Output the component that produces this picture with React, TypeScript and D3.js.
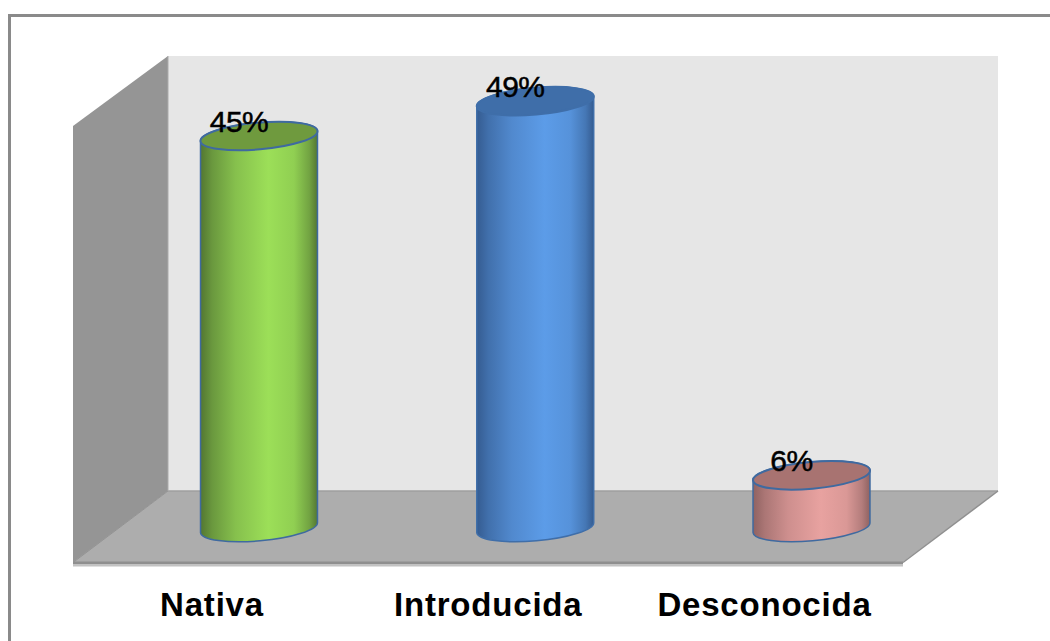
import React from "react";
import * as d3 from "d3";

const categories = ["Nativa", "Introducida", "Desconocida"];
const shares = [45, 49, 6];
const bodyColors = ["#9cdf58", "#5c9ce8", "#e8a2a0"];
const bodyEdgeColors = ["#4f7230", "#33598c", "#8a5f5e"];
const topColors = ["#6f9a3e", "#3f6ea9", "#a87371"];
const strokeColors = ["#3f6aa0", "#3f6ea9", "#3f6aa0"];

const y = d3.scaleLinear().domain([0, 50]).range([527.5, 92.5]);
const x = d3.scalePoint<string>().domain(categories).range([259, 811.5]);

const RX = 58.7;
const RY = 13.4;
const TILT = -5;
const rad = (TILT * Math.PI) / 180;
const dx = RX * Math.cos(rad);
const dy = RX * Math.sin(rad);

const cylinderBody = (cx: number, yTop: number, yBase: number) =>
  `M${cx - dx},${yTop - dy}` +
  `L${cx - dx},${yBase - dy}` +
  `A${RX},${RY} ${TILT} 0 0 ${cx + dx},${yBase + dy}` +
  `L${cx + dx},${yTop + dy}` +
  `A${RX},${RY} ${TILT} 0 0 ${cx - dx},${yTop - dy}Z`;

const stops = [0, 0.1, 0.3, 0.58, 0.8, 0.93, 1];
const mixes = [0.95, 0.65, 0.28, 0, 0.15, 0.55, 0.95];

export default function App() {
  const fontFamily = '"Liberation Sans", Arial, sans-serif';
  return (
    <svg
      width={1050}
      height={641}
      style={{ position: "fixed", left: 0, top: 0, background: "#fff" }}
    >
      <defs>
        {categories.map((c, i) => (
          <linearGradient key={c} id={`side-${i}`} x1="0" x2="1" y1="0" y2="0">
            {stops.map((s, j) => (
              <stop
                key={s}
                offset={s}
                stopColor={d3.interpolateRgb(bodyColors[i], bodyEdgeColors[i])(mixes[j])}
              />
            ))}
          </linearGradient>
        ))}
      </defs>

      {/* outer frame, open past the right and lower page edges */}
      <rect x={9.5} y={15.5} width={1100} height={700} fill="#fff" stroke="#8a8a8a" strokeWidth={3} />

      {/* back wall, side wall and floor */}
      <rect x={168} y={56} width={830} height={435} fill="#e6e6e6" />
      <polygon points="73,126 168,56 168,491 73,563" fill="#959595" />
      <polygon points="73,562 168,491 998,491 903,562" fill="#adadad" />
      <line x1={168} y1={491} x2={998} y2={491} stroke="#9f9f9f" strokeWidth={1.5} />
      <line x1={168} y1={56} x2={168} y2={491} stroke="#ababab" strokeWidth={1} />
      <line x1={73} y1={562.5} x2={168} y2={491} stroke="#939393" strokeWidth={1} />
      <line x1={903} y1={562.5} x2={998} y2={491} stroke="#8f8f8f" strokeWidth={1.5} />
      <rect x={73} y={561.5} width={830} height={2.5} fill="#8f8f8f" />
      <rect x={73} y={564} width={830} height={2.5} fill="#c2c2c2" />

      {/* cylinders */}
      {categories.map((c, i) => {
        const cx = x(c)!;
        const yTop = y(shares[i]);
        return (
          <g key={c}>
            <path
              d={cylinderBody(cx, yTop, y(0))}
              fill={`url(#side-${i})`}
              stroke={strokeColors[i]}
              strokeWidth={1.5}
            />
            <ellipse
              cx={cx}
              cy={yTop}
              rx={RX}
              ry={RY}
              transform={`rotate(${TILT} ${cx} ${yTop})`}
              fill={topColors[i]}
              stroke={strokeColors[i]}
              strokeWidth={2}
            />
            <text
              x={cx - 20}
              y={yTop - 4}
              textAnchor="middle"
              fontFamily={fontFamily}
              fontSize={30}
              letterSpacing={-0.5}
              stroke="#000"
              strokeWidth={0.5}
              fill="#000"
            >
              {shares[i]}%
            </text>
            <text
              x={cx - 47}
              y={616}
              textAnchor="middle"
              fontFamily={fontFamily}
              fontWeight="bold"
              fontSize={33}
              letterSpacing={0.8}
              fill="#000"
            >
              {c}
            </text>
          </g>
        );
      })}
    </svg>
  );
}
